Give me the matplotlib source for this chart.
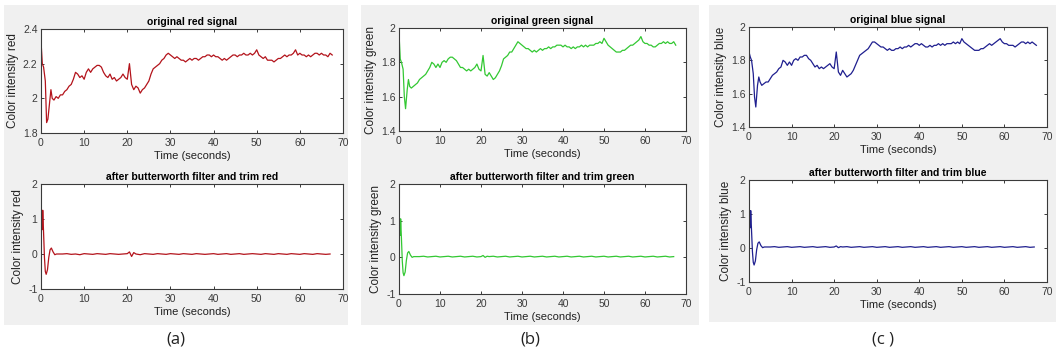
#!/usr/bin/env python3
import matplotlib
matplotlib.use("Agg")
import matplotlib.pyplot as plt
from matplotlib.patches import Rectangle
from matplotlib.ticker import FuncFormatter

plt.rcParams["font.family"] = ["Liberation Sans", "DejaVu Sans"]

W, H = 1056, 356

# time axis for the raw signals (seconds)
time = [
    0, 0.3, 0.6, 1.0, 1.3, 1.6, 2.0, 2.3, 2.6, 3.0,
    3.5, 4.0, 4.5, 5.0, 5.5, 6.0, 6.5, 7.0, 7.5, 8.0,
    8.5, 9.0, 9.5, 10.0, 10.5, 11.0, 11.5, 12.0, 12.5, 13.0,
    13.5, 14.0, 14.5, 15.0, 15.5, 16.0, 16.5, 17.0, 17.5, 18.0,
    18.5, 19.0, 19.5, 20.0, 20.5, 21.0, 21.5, 22.0, 22.5, 23.0,
    23.5, 24.0, 24.5, 25.0, 25.5, 26.0, 26.5, 27.0, 27.5, 28.0,
    28.5, 29.0, 29.5, 30.0, 30.5, 31.0, 31.5, 32.0, 32.5, 33.0,
    33.5, 34.0, 34.5, 35.0, 35.5, 36.0, 36.5, 37.0, 37.5, 38.0,
    38.5, 39.0, 39.5, 40.0, 40.5, 41.0, 41.5, 42.0, 42.5, 43.0,
    43.5, 44.0, 44.5, 45.0, 45.5, 46.0, 46.5, 47.0, 47.5, 48.0,
    48.5, 49.0, 49.5, 50.0, 50.5, 51.0, 51.5, 52.0, 52.5, 53.0,
    53.5, 54.0, 54.5, 55.0, 55.5, 56.0, 56.5, 57.0, 57.5, 58.0,
    58.5, 59.0, 59.5, 60.0, 60.5, 61.0, 61.5, 62.0, 62.5, 63.0,
    63.5, 64.0, 64.5, 65.0, 65.5, 66.0, 66.5, 67.0, 67.5,
]

red_raw = [
    2.33, 2.20, 2.18, 2.10, 1.86, 1.88, 1.98, 2.05, 2.00, 1.99,
    2.01, 2.00, 2.02, 2.02, 2.04, 2.05, 2.07, 2.08, 2.11, 2.15,
    2.14, 2.12, 2.13, 2.11, 2.15, 2.17, 2.15, 2.17, 2.18, 2.19,
    2.19, 2.18, 2.15, 2.13, 2.12, 2.14, 2.11, 2.12, 2.10, 2.11,
    2.12, 2.14, 2.12, 2.11, 2.20, 2.08, 2.05, 2.07, 2.06, 2.03,
    2.05, 2.06, 2.08, 2.10, 2.14, 2.17, 2.18, 2.19, 2.20, 2.22,
    2.23, 2.25, 2.26, 2.25, 2.24, 2.23, 2.24, 2.23, 2.22, 2.22,
    2.21, 2.22, 2.23, 2.22, 2.23, 2.23, 2.22, 2.23, 2.24, 2.24,
    2.25, 2.25, 2.24, 2.25, 2.24, 2.24, 2.23, 2.22, 2.23, 2.22,
    2.23, 2.24, 2.25, 2.25, 2.24, 2.25, 2.25, 2.26, 2.25, 2.25,
    2.26, 2.25, 2.26, 2.28, 2.25, 2.24, 2.23, 2.24, 2.22, 2.22,
    2.22, 2.21, 2.22, 2.23, 2.23, 2.24, 2.25, 2.24, 2.25, 2.25,
    2.26, 2.28, 2.25, 2.26, 2.25, 2.25, 2.24, 2.25, 2.24, 2.25,
    2.26, 2.26, 2.25, 2.26, 2.25, 2.25, 2.24, 2.26, 2.25,
]

green_raw = [
    1.97, 1.82, 1.80, 1.76, 1.60, 1.53, 1.64, 1.70, 1.66, 1.65,
    1.66, 1.67, 1.68, 1.70, 1.71, 1.72, 1.73, 1.75, 1.77, 1.80,
    1.79, 1.77, 1.79, 1.77, 1.80, 1.81, 1.80, 1.82, 1.83, 1.83,
    1.82, 1.81, 1.79, 1.77, 1.77, 1.76, 1.75, 1.76, 1.75, 1.76,
    1.77, 1.79, 1.76, 1.75, 1.84, 1.73, 1.72, 1.74, 1.72, 1.70,
    1.71, 1.73, 1.75, 1.78, 1.82, 1.83, 1.84, 1.86, 1.86, 1.88,
    1.90, 1.92, 1.91, 1.90, 1.89, 1.88, 1.88, 1.87, 1.86, 1.87,
    1.86, 1.87, 1.88, 1.87, 1.88, 1.88, 1.89, 1.88, 1.89, 1.89,
    1.90, 1.90, 1.90, 1.89, 1.90, 1.89, 1.89, 1.88, 1.89, 1.88,
    1.89, 1.89, 1.90, 1.89, 1.90, 1.89, 1.90, 1.90, 1.90, 1.91,
    1.91, 1.92, 1.91, 1.94, 1.92, 1.90, 1.89, 1.88, 1.87, 1.86,
    1.86, 1.86, 1.87, 1.87, 1.88, 1.89, 1.90, 1.90, 1.91, 1.92,
    1.93, 1.95, 1.92, 1.91, 1.91, 1.90, 1.90, 1.89, 1.89, 1.90,
    1.91, 1.91, 1.92, 1.91, 1.92, 1.91, 1.91, 1.92, 1.90,
]

blue_raw = [
    1.85, 1.82, 1.80, 1.72, 1.58, 1.52, 1.65, 1.70, 1.67, 1.65,
    1.66, 1.67, 1.67, 1.69, 1.71, 1.72, 1.73, 1.75, 1.76, 1.80,
    1.79, 1.77, 1.79, 1.77, 1.80, 1.81, 1.80, 1.82, 1.82, 1.83,
    1.83, 1.81, 1.80, 1.78, 1.76, 1.77, 1.75, 1.76, 1.75, 1.76,
    1.77, 1.78, 1.76, 1.75, 1.85, 1.73, 1.71, 1.74, 1.72, 1.70,
    1.71, 1.72, 1.74, 1.77, 1.80, 1.83, 1.84, 1.85, 1.86, 1.87,
    1.89, 1.91, 1.91, 1.90, 1.89, 1.88, 1.88, 1.87, 1.86, 1.87,
    1.86, 1.86, 1.87, 1.87, 1.88, 1.87, 1.88, 1.88, 1.89, 1.88,
    1.89, 1.90, 1.90, 1.89, 1.90, 1.89, 1.88, 1.88, 1.89, 1.88,
    1.89, 1.89, 1.90, 1.89, 1.90, 1.89, 1.90, 1.90, 1.90, 1.91,
    1.90, 1.91, 1.90, 1.93, 1.91, 1.90, 1.89, 1.88, 1.87, 1.86,
    1.86, 1.86, 1.87, 1.87, 1.88, 1.89, 1.90, 1.89, 1.90, 1.91,
    1.92, 1.93, 1.91, 1.90, 1.90, 1.89, 1.89, 1.89, 1.88, 1.89,
    1.90, 1.91, 1.91, 1.90, 1.91, 1.90, 1.91, 1.90, 1.89,
]

# time axis for the filtered signals
time_f = [
    0.3, 0.4, 0.6, 0.8, 1.0, 1.2, 1.5, 1.8, 2.1, 2.4, 2.8, 3.2, 3.6, 4.0,
    5, 6, 7, 8, 9, 10, 11, 12, 13, 14, 15, 16, 17, 18, 19, 20,
    20.5, 21, 21.5,
    22, 23, 24, 25, 26, 27, 28, 29, 30, 31,
    32, 33, 34, 35, 36, 37, 38, 39, 40, 41,
    42, 43, 44, 45, 46, 47, 48, 49, 50, 51,
    52, 53, 54, 55, 56, 57, 58, 59, 60, 61,
    62, 63, 64, 65, 66, 67,
]

red_filt = [
    0.70, 1.25, 0.60, -0.10, -0.50, -0.58, -0.45, -0.10, 0.12, 0.17, 0.06, -0.02, 0.00, 0.00,
    0.00, 0.01, -0.01, 0.00, -0.02, 0.01, 0.00, -0.01, 0.01, 0.00, -0.01, 0.01, 0.00, -0.01, 0.00, 0.01,
    0.06, -0.07, 0.04,
    0.00, -0.02, 0.01, 0.00, -0.01, 0.01, 0.00, -0.01, 0.01, 0.00,
    -0.01, 0.01, 0.00, -0.01, 0.01, 0.00, -0.01, 0.00, 0.01, -0.01,
    0.00, 0.01, -0.01, 0.00, 0.01, -0.01, 0.00, 0.01, 0.00, -0.01,
    0.01, 0.00, -0.01, 0.01, 0.00, -0.01, 0.01, 0.00, -0.01, 0.01,
    0.00, -0.01, 0.01, 0.00, -0.01, 0.00,
]

green_filt = [
    0.60, 1.05, 0.50, -0.10, -0.42, -0.50, -0.40, -0.08, 0.12, 0.16, 0.06, 0.00, 0.02, 0.02,
    0.02, 0.03, 0.01, 0.02, 0.03, 0.01, 0.02, 0.03, 0.01, 0.02, 0.03, 0.01, 0.02, 0.03, 0.01, 0.02,
    0.05, 0.00, 0.03,
    0.02, 0.03, 0.01, 0.02, 0.03, 0.01, 0.02, 0.03, 0.01, 0.02,
    0.03, 0.01, 0.02, 0.03, 0.01, 0.02, 0.03, 0.01, 0.02, 0.03,
    0.01, 0.02, 0.03, 0.01, 0.02, 0.03, 0.01, 0.02, 0.03, 0.01,
    0.02, 0.03, 0.01, 0.02, 0.03, 0.01, 0.02, 0.03, 0.01, 0.02,
    0.03, 0.01, 0.02, 0.03, 0.01, 0.02,
]

blue_filt = [
    0.60, 1.10, 0.50, -0.10, -0.42, -0.50, -0.38, -0.05, 0.14, 0.18, 0.07, 0.01, 0.03, 0.03,
    0.03, 0.04, 0.02, 0.03, 0.04, 0.02, 0.03, 0.04, 0.02, 0.03, 0.04, 0.02, 0.03, 0.04, 0.02, 0.03,
    0.06, 0.01, 0.04,
    0.03, 0.04, 0.02, 0.03, 0.04, 0.02, 0.03, 0.04, 0.02, 0.03,
    0.04, 0.02, 0.03, 0.04, 0.02, 0.03, 0.04, 0.02, 0.03, 0.04,
    0.02, 0.03, 0.04, 0.02, 0.03, 0.04, 0.02, 0.03, 0.04, 0.02,
    0.03, 0.04, 0.02, 0.03, 0.04, 0.02, 0.03, 0.04, 0.02, 0.03,
    0.04, 0.02, 0.03, 0.04, 0.02, 0.03,
]

channels = ["red", "green", "blue"]
panel_tags = ["(a)", "(b)", "(c )"]
raw_ylims = [(1.8, 2.4), (1.4, 2.0), (1.4, 2.0)]
raw_yticks = [[1.8, 2.0, 2.2, 2.4], [1.4, 1.6, 1.8, 2.0], [1.4, 1.6, 1.8, 2.0]]
filt_yticks = [-1, 0, 1, 2]
xticks = [0, 10, 20, 30, 40, 50, 60, 70]

colors = ["#b3131b", "#33c833", "#1f1f8f"]

# pixel boxes (left, top, right, bottom)
panel_boxes = [(4, 5, 348, 325), (361, 5, 699, 325), (709, 5, 1056, 322)]
top_boxes = [(41, 29, 343, 133), (399, 28, 686, 131), (749, 27, 1047, 127)]
bot_boxes = [(41, 184, 343, 289), (399, 184, 686, 294), (749, 180, 1047, 282)]


def fig_rect(box):
    l, t, r, b = box
    return [l / W, 1 - b / H, (r - l) / W, (b - t) / H]


def style_axes(ax):
    ax.set_facecolor("white")
    for s in ax.spines.values():
        s.set_color("#3a3a3a")
        s.set_linewidth(0.8)
    ax.tick_params(direction="in", top=True, right=True, length=2.5, width=0.7,
                   labelsize=7.5, colors="#3a3a3a")
    ax.tick_params(axis="x", pad=3.5)
    ax.tick_params(axis="y", pad=2.5)
    ax.set_xlim(0, 70)
    ax.set_xticks(xticks)
    ax.yaxis.set_major_formatter(FuncFormatter(lambda v, p: f"{v:g}"))


def label_axes(ax, ch):
    ax.set_xlabel("Time (seconds)", fontsize=8, labelpad=2.5, color="#222222")
    ax.set_ylabel(f"Color intensity {ch}", fontsize=8.5, labelpad=3, color="#222222")


fig = plt.figure(figsize=(W / 100, H / 100), dpi=100)
fig.patch.set_facecolor("white")

raws = [red_raw, green_raw, blue_raw]
filts = [red_filt, green_filt, blue_filt]

for i, ch in enumerate(channels):
    x0, y0, w0, h0 = fig_rect(panel_boxes[i])
    fig.patches.append(Rectangle((x0, y0), w0, h0, transform=fig.transFigure,
                                 facecolor="#f0f0f0", edgecolor="none", zorder=-10))

    ax1 = fig.add_axes(fig_rect(top_boxes[i]))
    style_axes(ax1)
    ax1.plot(time, raws[i], color=colors[i], lw=0.9)
    ax1.set_ylim(*raw_ylims[i])
    ax1.set_yticks(raw_yticks[i])
    ax1.set_title(f"original {ch} signal", fontsize=7.5, fontweight="bold", pad=3)
    label_axes(ax1, ch)

    ax2 = fig.add_axes(fig_rect(bot_boxes[i]))
    style_axes(ax2)
    ax2.plot(time_f, filts[i], color=colors[i], lw=0.9)
    ax2.set_ylim(-1, 2)
    ax2.set_yticks(filt_yticks)
    ax2.set_title(f"after butterworth filter and trim {ch}", fontsize=7.5,
                  fontweight="bold", pad=3)
    label_axes(ax2, ch)

    cx = (panel_boxes[i][0] + panel_boxes[i][2]) / 2 / W
    fig.text(cx, 1 - 340 / H, panel_tags[i], ha="center", va="center",
             fontsize=12, family=["Open Sans", "DejaVu Sans"], color="#222222")

fig.savefig("out.png", dpi=100, facecolor="white")
